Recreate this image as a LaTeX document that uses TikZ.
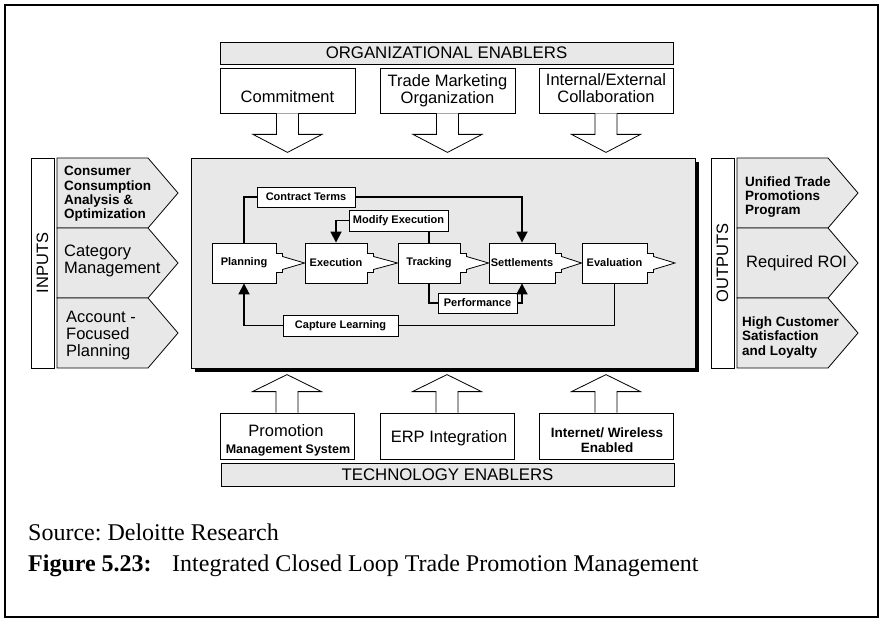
\documentclass[tikz,border=0pt]{standalone}
\usepackage{fontspec}
\setmainfont{Liberation Sans}
\newfontfamily\capfont{Liberation Serif}
\usetikzlibrary{arrows.meta,calc}
\definecolor{panelgray}{HTML}{E8E8E8}
\frenchspacing
\newcommand\flowarrow[2]{%
  \fill[white] let \p1=(#1.east), \p2=(#2) in (\x1-0.6pt,\y1-9.5pt) rectangle (\x1+1pt,\y1+9.5pt);
  \draw[line width=0.8pt, fill=white] let \p1=(#1.east), \p2=(#2) in
    (\x1-0.4pt,\y1+9.5pt) -- (\x1+6pt,\y1+9.5pt) -- (\x1+6pt,\y1+6.5pt) -- (\x2,\y1)
    -- (\x1+6pt,\y1-6.5pt) -- (\x1+6pt,\y1-9.5pt) -- (\x1-0.4pt,\y1-9.5pt);}
\begin{document}
\begin{tikzpicture}[x=1pt,y=-1pt,
  box/.style={draw, line width=0.8pt, fill=white, inner sep=0pt},
  bar/.style={draw, line width=0.8pt, fill=panelgray, inner sep=0pt, minimum width=453pt,
    font=\fontsize{16.8}{17}\selectfont},
  regtext/.style={inner sep=0pt, align=center, font=\fontsize{16.5}{17}\selectfont},
  boldtext/.style={inner sep=0pt, align=left, font=\fontsize{13.5}{14.4}\selectfont\bfseries},
  flowbox/.style={draw, line width=0.9pt, fill=white, minimum height=40pt, inner sep=0pt,
    font=\fontsize{11}{12}\selectfont\bfseries},
  tagbox/.style={draw, line width=0.9pt, fill=white, inner sep=0pt,
    font=\fontsize{11}{12}\selectfont\bfseries},
  conn/.style={line width=1.8pt},
  tip/.style={-{Triangle[width=11pt,length=11pt]}},
  captext/.style={inner sep=0pt, anchor=base west, font=\capfont\fontsize{24}{28}\selectfont},
  downblock/.pic={\draw[line width=0.8pt, fill=white] (-11,0) -- (-11,21) -- (-34.5,21) -- (0,39)
     -- (34.5,21) -- (11,21) -- (11,0);},
  upblock/.pic={\draw[line width=0.8pt, fill=white] (-11,0) -- (-11,-21) -- (-34.5,-21) -- (0,-38)
     -- (34.5,-21) -- (11,-21) -- (11,0);},
  pent/.pic={\draw[line width=0.8pt, fill=panelgray] (0,0) -- (91,0) -- (121,35) -- (91,70)
     -- (0,70) -- cycle;}
]
\useasboundingbox (0,0) rectangle (883,620);
\draw[line width=2.2pt] (5,5) rectangle (878,617);

% ---------- organizational enablers ----------
\node[bar, minimum height=22pt] (org) at (446.5,53) {ORGANIZATIONAL ENABLERS};
\node[box, minimum width=135pt, minimum height=45pt] (commit) at (287.5,90.5) {};
\node[box, minimum width=135pt, minimum height=45pt] (tmo) at (447.5,90.5) {};
\node[box, minimum width=134pt, minimum height=45pt] (iec) at (606,90.5) {};
\node[regtext] (committxt) at (287.5,97) {Commitment};
\node[regtext] (tmotxt) at (447.5,90.3) {Trade Marketing\\Organization};
\node[regtext] (iectxt) at (606,88.5) {Internal/External\\Collaboration};
\pic at (commit.south) {downblock};
\pic at (tmo.south) {downblock};
\pic at (iec.south) {downblock};

% ---------- main panel ----------
\fill[black] (195,162) rectangle (699,372);
\node[draw, line width=0.8pt, fill=panelgray, inner sep=0pt, minimum width=504pt,
  minimum height=210pt] (panel) at (443,263) {};

% ---------- inputs ----------
\node[box, rotate=90, minimum width=210pt, minimum height=23pt,
  font=\fontsize{16.5}{17}\selectfont] (inbox) at (42.5,263) {INPUTS};
\pic at (57,158) {pent};
\pic at (57,228) {pent};
\pic at (57,298) {pent};
\node[boldtext, anchor=west] (in1) at (64,194) {Consumer\\Consumption\\Analysis \&\\Optimization};
\node[regtext, align=left, anchor=west] (in2) at (64,261) {Category\\Management};
\node[regtext, align=left, anchor=west] (in3) at (66,336) {Account -\\Focused\\Planning};

% ---------- outputs ----------
\node[box, rotate=90, minimum width=210pt, minimum height=23pt,
  font=\fontsize{16.5}{17}\selectfont] (outbox) at (722.5,263) {OUTPUTS};
\pic at (737,158) {pent};
\pic at (737,228) {pent};
\pic at (737,298) {pent};
\node[boldtext, anchor=west] (out1) at (745,197) {Unified Trade\\Promotions\\Program};
\node[regtext, align=left, anchor=west] (out2) at (746,263) {Required ROI};
\node[boldtext, anchor=west] (out3) at (742,337.5) {High Customer\\Satisfaction\\and Loyalty};

% ---------- process flow ----------
\node[flowbox, minimum width=64pt] (plan) at (244,263) {Planning};
\node[flowbox, minimum width=62pt] (exec) at (336,263) {Execution};
\node[flowbox, minimum width=62pt] (track) at (429,263) {Tracking};
\node[flowbox, minimum width=66pt] (settle) at (522,263) {Settlements};
\node[flowbox, minimum width=65pt] (eval) at (614.5,263) {Evaluation};
\coordinate (evaltip) at (675,263);
\flowarrow{plan}{exec.west}
\flowarrow{exec}{track.west}
\flowarrow{track}{settle.west}
\flowarrow{settle}{eval.west}
\flowarrow{eval}{evaltip}

\node[tagbox, minimum width=98pt, minimum height=20pt] (ct) at (306,197) {Contract Terms};
\node[tagbox, minimum width=99pt, minimum height=21pt] (me) at (398.5,220.5) {Modify Execution};
\node[tagbox, minimum width=79pt, minimum height=20pt] (perf) at (477.5,303) {Performance};
\node[tagbox, minimum width=115pt, minimum height=21pt] (cl) at (340.5,325.5) {Capture Learning};

\draw[conn] (plan.north) |- (ct.west);
\draw[conn, tip] (ct.east) -| (settle.north);
\draw[conn] (track.north) -- (track.north |- me.south);
\draw[conn, tip] (me.west) -| (exec.north);
\draw[conn] (track.south) |- (perf.west);
\draw[conn, tip] (perf.east) -| (settle.south);
\draw[conn] (eval.south) |- (cl.east);
\draw[conn, tip] (cl.west) -| (plan.south);

% ---------- technology enablers ----------
\node[box, minimum width=134pt, minimum height=46pt] (prom) at (287,436) {};
\node[box, minimum width=134pt, minimum height=46pt] (erp) at (447,436) {};
\node[box, minimum width=134pt, minimum height=46pt] (inet) at (606,436) {};
\pic at (prom.north) {upblock};
\pic at (erp.north) {upblock};
\pic at (inet.north) {upblock};
\node[regtext, anchor=base] (promtxt) at (286,436) {Promotion};
\node[inner sep=0pt, anchor=base, font=\fontsize{12.5}{13}\selectfont\bfseries] (promtxtb) at (288,453) {Management System};
\node[regtext] (erptxt) at (449,438.7) {ERP Integration};
\node[boldtext, align=center] (inettxt) at (607,440) {Internet/ Wireless\\Enabled};
\node[bar, minimum height=23pt] (tech) at (447.5,474.5) {TECHNOLOGY ENABLERS};

% ---------- caption ----------
\node[captext] (src) at (28,540) {Source: Deloitte Research};
\node[captext] (figlbl) at (28,571) {\bfseries Figure 5.23:};
\node[captext] (figtxt) at (172,571) {Integrated Closed Loop Trade Promotion Management};
\end{tikzpicture}
\end{document}
